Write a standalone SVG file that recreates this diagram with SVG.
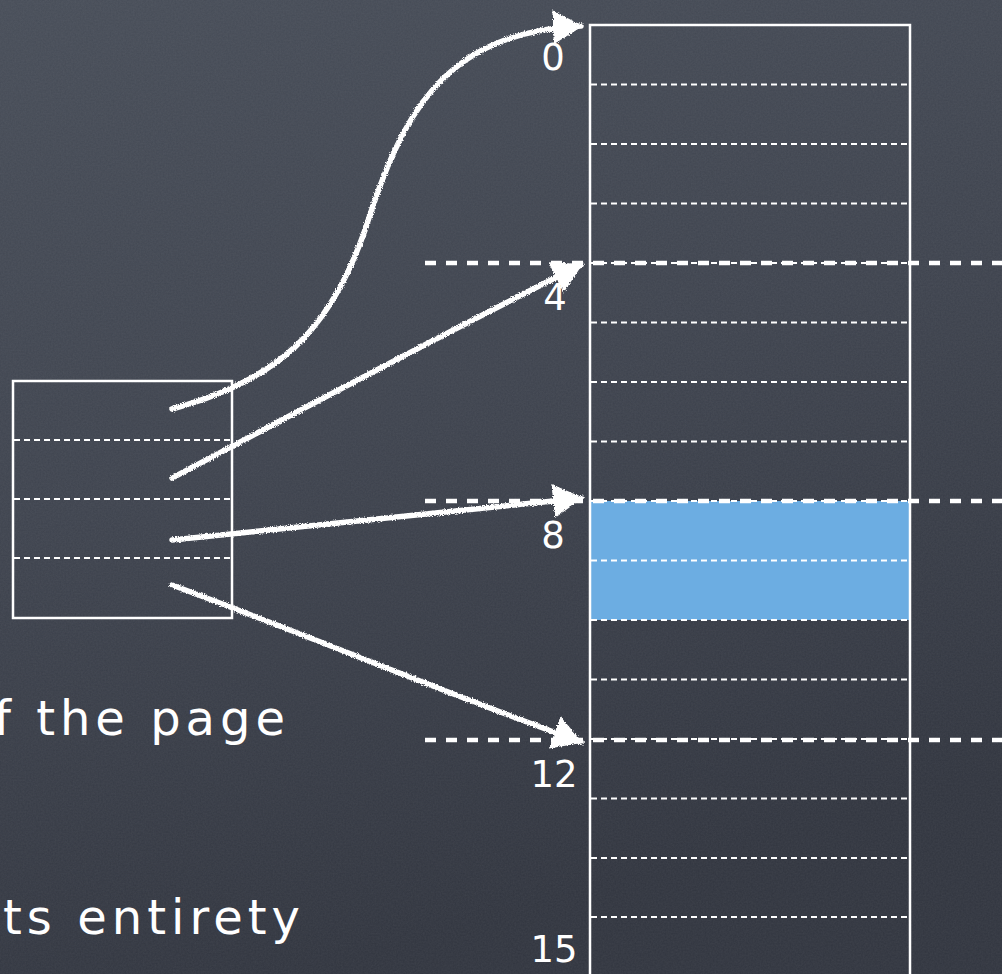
<svg xmlns="http://www.w3.org/2000/svg" width="1002" height="974" viewBox="0 0 1002 974">
  <style>
    .frame { fill: none; stroke: #ffffff; stroke-width: 2.5; }
    .thin { stroke: #ffffff; stroke-width: 2; stroke-dasharray: 6 4; fill: none; }
    .thick { stroke: #ffffff; stroke-width: 4.5; stroke-dasharray: 11 10; fill: none; }
    .chalk { stroke: #ffffff; stroke-width: 5.5; fill: none; stroke-linecap: round; }
    .num { fill: #ffffff; font-family: "DejaVu Sans", sans-serif; font-size: 37px; text-anchor: middle; }
    .big { fill: #ffffff; font-family: "DejaVu Sans", sans-serif; font-size: 48px; }
  </style>
  <defs>
    <linearGradient id="bg" x1="0" y1="0" x2="0.3" y2="1">
      <stop offset="0" stop-color="#474d58"/>
      <stop offset="0.5" stop-color="#3e434e"/>
      <stop offset="1" stop-color="#31353f"/>
    </linearGradient>
    <filter id="rough" x="-5%" y="-5%" width="110%" height="110%">
      <feTurbulence type="fractalNoise" baseFrequency="0.9" numOctaves="2" seed="3" result="n"/>
      <feDisplacementMap in="SourceGraphic" in2="n" scale="3.5" xChannelSelector="R" yChannelSelector="G"/>
    </filter>
    <filter id="grain" x="0" y="0" width="100%" height="100%">
      <feTurbulence type="fractalNoise" baseFrequency="0.6" numOctaves="3" seed="7"/>
      <feColorMatrix type="matrix" values="0 0 0 0 1  0 0 0 0 1  0 0 0 0 1  0 0 0 0.06 0"/>
    </filter>
    <marker id="ah" viewBox="0 0 30 34" refX="28" refY="17" markerWidth="30" markerHeight="34" markerUnits="userSpaceOnUse" orient="auto">
      <path d="M0,0 L30,17 L0,34 Z" fill="#ffffff"/>
    </marker>
  </defs>

  <rect x="0" y="0" width="1002" height="974" fill="url(#bg)"/>
  <rect x="0" y="0" width="1002" height="974" filter="url(#grain)"/>

  <g id="text-left">
    <text class="big" x="-6" y="735" textLength="291" lengthAdjust="spacing">f the page</text>
    <text class="big" x="3" y="934" textLength="297" lengthAdjust="spacing">ts entirety</text>
  </g>

  <g id="page-table">
    <rect x="590" y="501" width="320" height="119" fill="#6cade2"/>
    <rect class="frame" x="590" y="25" width="320" height="960"/>
    <g>
      <line class="thin" x1="591" y1="84.5" x2="909" y2="84.5"/>
      <line class="thin" x1="591" y1="144" x2="909" y2="144"/>
      <line class="thin" x1="591" y1="203.5" x2="909" y2="203.5"/>
      <line class="thin" x1="591" y1="263" x2="909" y2="263"/>
      <line class="thin" x1="591" y1="322.5" x2="909" y2="322.5"/>
      <line class="thin" x1="591" y1="382" x2="909" y2="382"/>
      <line class="thin" x1="591" y1="441.5" x2="909" y2="441.5"/>
      <line class="thin" x1="591" y1="501" x2="909" y2="501"/>
      <line class="thin" x1="591" y1="560.5" x2="909" y2="560.5"/>
      <line class="thin" x1="591" y1="620" x2="909" y2="620"/>
      <line class="thin" x1="591" y1="679.5" x2="909" y2="679.5"/>
      <line class="thin" x1="591" y1="739" x2="909" y2="739"/>
      <line class="thin" x1="591" y1="798.5" x2="909" y2="798.5"/>
      <line class="thin" x1="591" y1="858" x2="909" y2="858"/>
      <line class="thin" x1="591" y1="917" x2="909" y2="917"/>
    </g>
  </g>

  <g id="boundaries">
    <line class="thick" x1="425" y1="263" x2="1002" y2="263"/>
    <line class="thick" x1="425" y1="501" x2="1002" y2="501"/>
    <line class="thick" x1="425" y1="740" x2="1002" y2="740"/>
  </g>

  <g id="labels">
    <text class="num" x="553" y="70">0</text>
    <text class="num" x="555" y="310">4</text>
    <text class="num" x="553" y="548">8</text>
    <text class="num" x="554" y="787">12</text>
    <text class="num" x="554" y="962">15</text>
  </g>

  <g id="small-table">
    <rect class="frame" x="13" y="381" width="219" height="237"/>
    <line class="thin" x1="14" y1="440" x2="230" y2="440"/>
    <line class="thin" x1="14" y1="499" x2="230" y2="499"/>
    <line class="thin" x1="14" y1="558" x2="230" y2="558"/>
  </g>

  <g id="connectors" filter="url(#rough)">
    <path class="chalk" d="M172,409 C280,380 330,330 365,230 C400,120 440,32 581,26" marker-end="url(#ah)"/>
    <path class="chalk" d="M172,478 C320,400 450,330 581,265" marker-end="url(#ah)"/>
    <path class="chalk" d="M172,540 C320,525 450,512 581,498" marker-end="url(#ah)"/>
    <path class="chalk" d="M172,585 C320,640 450,695 581,742" marker-end="url(#ah)"/>
  </g>
</svg>
